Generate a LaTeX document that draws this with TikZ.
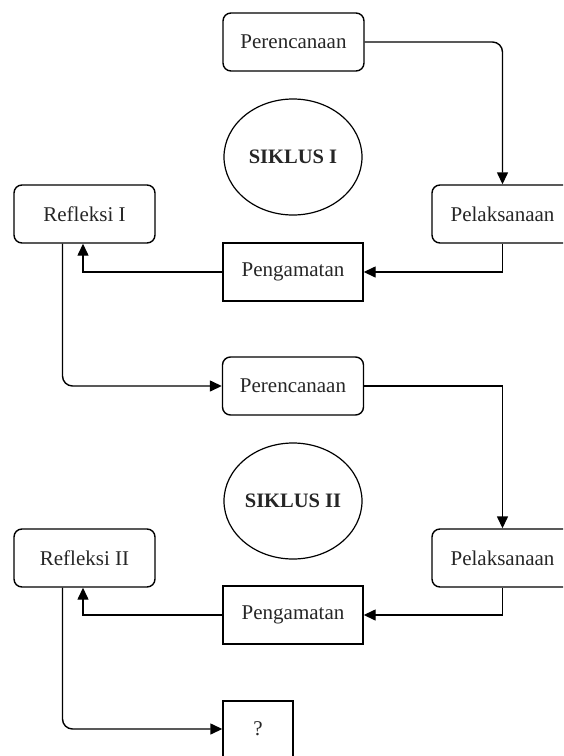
\documentclass[tikz,border=0pt]{standalone}
\usepackage{fontspec}
\setmainfont{Liberation Serif}
\usetikzlibrary{arrows.meta,shapes.geometric}
\begin{document}
\begin{tikzpicture}[x=1pt,y=-1pt,
  txt/.style={font=\fontsize{21}{25}\selectfont,text=black!85},
  rbox/.style={txt,draw,rounded corners=8pt,minimum width=141pt,minimum height=58pt,line width=1.4pt,inner sep=0pt},
  sbox/.style={txt,draw,minimum width=140pt,minimum height=58pt,line width=1.4pt,inner sep=0pt},
  cyc/.style={draw,ellipse,minimum width=138pt,minimum height=116pt,line width=1.2pt,inner sep=0pt,font=\fontsize{20.5}{24}\selectfont\bfseries,text=black!85},
  conn/.style={line width=1.4pt,-{Triangle[length=12pt,width=11pt]}}]
\useasboundingbox (0,0) rectangle (563,756);
\clip (0,0) rectangle (563,756);
% Siklus I
\node[rbox] (p1) at (293.5,42) {Perencanaan};
\node[cyc] (c1) at (293,157) {SIKLUS I};
\node[rbox] (r1) at (84.5,214) {Refleksi I};
\node[rbox] (l1) at (502.5,214) {Pelaksanaan};
\node[sbox] (g1) at (293,272) {Pengamatan};
% Siklus II
\node[rbox] (p2) at (293,386) {Perencanaan};
\node[cyc] (c2) at (293,501) {SIKLUS II};
\node[rbox] (r2) at (84.5,558) {Refleksi II};
\node[rbox] (l2) at (502.5,558) {Pelaksanaan};
\node[sbox] (g2) at (293,615) {Pengamatan};
\node[sbox,minimum width=70pt,minimum height=56pt] (q) at (258,729) {?};
% connectors
\draw[conn,rounded corners=10pt] (p1.east) -| (l1.north);
\draw[conn] (l1.south) |- (g1.east);
\draw[conn] (g1.west) -| ([xshift=-1.5pt]r1.south);
\draw[conn,rounded corners=10pt] ([xshift=-22pt]r1.south) |- (p2.west);
\draw[conn] (p2.east) -| (l2.north);
\draw[conn] (l2.south) |- (g2.east);
\draw[conn] (g2.west) -| ([xshift=-1.5pt]r2.south);
\draw[conn,rounded corners=10pt] ([xshift=-22pt]r2.south) |- (q.west);
\end{tikzpicture}
\end{document}
